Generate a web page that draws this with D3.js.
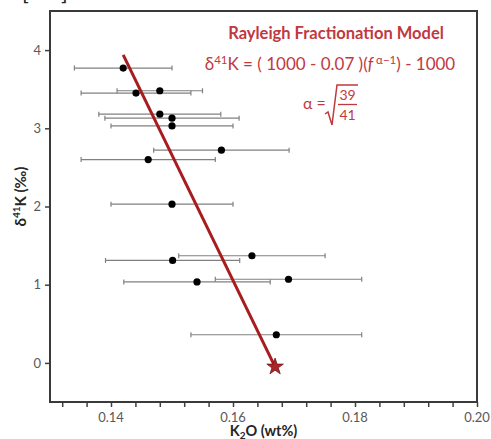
<!DOCTYPE html>
<html>
<head>
<meta charset="utf-8">
<script src="https://cdn.jsdelivr.net/npm/d3@7"></script>
<style>
  body { margin: 0; background: #fff; }
  svg { display: block; font-family: Lato, "Open Sans", sans-serif; }
</style>
</head>
<body>
<div class="chart"></div>
<script>
// K2O (wt%) vs d41K, with symmetric K2O error bars
const k2o    = [0.1420, 0.1441, 0.1480, 0.1480, 0.1500, 0.1500, 0.1581, 0.1461, 0.1500, 0.1501, 0.1541, 0.1631, 0.1691, 0.1671];
const k2oErr = [0.0080, 0.0090, 0.0070, 0.0100, 0.0110, 0.0100, 0.0111, 0.0110, 0.0100, 0.0110, 0.0120, 0.0120, 0.0120, 0.0140];
const d41k   = [3.77, 3.45, 3.48, 3.18, 3.13, 3.03, 2.72, 2.60, 2.03, 1.31, 1.035, 1.37, 1.07, 0.36];

// Rayleigh model line and starting composition (star)
const modelK2O = [0.1420, 0.1669];
const modelD41K = [3.94, -0.05];
const startK2O = 0.1669;
const startD41K = -0.05;

const xTicks = [0.14, 0.16, 0.18, 0.20];
const xMinorTicks = d3.range(0.132, 0.2001, 0.004);
const yTicks = [0, 1, 2, 3, 4];

const width = 491;
const height = 439;
const margin = { top: 11, left: 50, bottom: 37, right: 14 };
const red = '#c0393f';

const svg = d3.select('.chart').append('svg')
  .attr('width', width)
  .attr('height', height);

const x = d3.scaleLinear()
  .domain([0.13, 0.20])
  .range([margin.left, width - margin.right]);

const y = d3.scaleLinear()
  .domain([-0.5, 4.5])
  .range([height - margin.bottom, margin.top]);

// cut off panel label at the very top
svg.append('text')
  .attr('x', 22).attr('y', 0)
  .attr('font-size', 22).attr('fill', '#222')
  .text('[');
svg.append('text')
  .attr('x', 61).attr('y', 0)
  .attr('font-size', 22).attr('fill', '#222')
  .text(']');

// axes
const xAxis = d3.axisBottom(x).tickValues(xMinorTicks).tickSize(5).tickFormat('');
svg.append('g')
  .attr('transform', `translate(0,${height - margin.bottom})`)
  .call(xAxis)
  .call(g => g.select('.domain').remove())
  .call(g => g.selectAll('line').attr('stroke', '#404040').attr('stroke-width', 1.5));

svg.append('g')
  .selectAll('text').data(xTicks)
  .join('text')
  .attr('x', d => x(d))
  .attr('y', height - margin.bottom + 20)
  .attr('text-anchor', 'middle')
  .attr('font-size', 13)
  .attr('fill', '#595959')
  .text(d => d3.format('.2f')(d));

const yAxis = d3.axisLeft(y).tickValues(yTicks).tickSize(5).tickPadding(4).tickFormat(d3.format('d'));
svg.append('g')
  .attr('transform', `translate(${margin.left},0)`)
  .call(yAxis)
  .call(g => g.select('.domain').remove())
  .call(g => g.selectAll('line').attr('stroke', '#404040').attr('stroke-width', 1.5))
  .call(g => g.selectAll('text').attr('font-size', 13).attr('fill', '#595959').attr('font-family', 'Lato, sans-serif'));

// frame
svg.append('rect')
  .attr('x', margin.left).attr('y', margin.top)
  .attr('width', width - margin.left - margin.right)
  .attr('height', height - margin.top - margin.bottom)
  .attr('fill', 'none')
  .attr('stroke', '#3a3a3a')
  .attr('stroke-width', 2);

// axis titles
const yTitle = svg.append('text')
  .attr('transform', `translate(26,${(margin.top + height - margin.bottom) / 2 - 10}) rotate(-90)`)
  .attr('text-anchor', 'middle')
  .attr('font-size', 15).attr('font-weight', 'bold').attr('fill', '#262626');
yTitle.append('tspan').text('δ');
yTitle.append('tspan').attr('font-size', 10).attr('dy', -6).text('41');
yTitle.append('tspan').attr('dy', 6).text('K (‰)');

const xTitle = svg.append('text')
  .attr('x', (margin.left + width - margin.right) / 2)
  .attr('y', height - 3)
  .attr('text-anchor', 'middle')
  .attr('font-size', 14.5).attr('font-weight', 'bold').attr('fill', '#262626');
xTitle.append('tspan').text('K');
xTitle.append('tspan').attr('font-size', 10).attr('dy', 3).text('2');
xTitle.append('tspan').attr('dy', -3).text('O (wt%)');

// error bars
const idx = d3.range(k2o.length);
const bars = svg.append('g')
  .attr('stroke', '#808080')
  .attr('stroke-width', 1.2);
bars.selectAll('line.bar').data(idx).join('line')
  .attr('class', 'bar')
  .attr('x1', i => x(k2o[i] - k2oErr[i]))
  .attr('x2', i => x(k2o[i] + k2oErr[i]))
  .attr('y1', i => y(d41k[i]))
  .attr('y2', i => y(d41k[i]));
bars.selectAll('line.capl').data(idx).join('line')
  .attr('class', 'capl')
  .attr('x1', i => x(k2o[i] - k2oErr[i]))
  .attr('x2', i => x(k2o[i] - k2oErr[i]))
  .attr('y1', i => y(d41k[i]) - 2.5)
  .attr('y2', i => y(d41k[i]) + 2.5);
bars.selectAll('line.capr').data(idx).join('line')
  .attr('class', 'capr')
  .attr('x1', i => x(k2o[i] + k2oErr[i]))
  .attr('x2', i => x(k2o[i] + k2oErr[i]))
  .attr('y1', i => y(d41k[i]) - 2.5)
  .attr('y2', i => y(d41k[i]) + 2.5);

// points
svg.append('g').selectAll('circle').data(idx).join('circle')
  .attr('cx', i => x(k2o[i]))
  .attr('cy', i => y(d41k[i]))
  .attr('r', 3.6)
  .attr('fill', '#000');

// model line
const modelLine = d3.line()
  .x(i => x(modelK2O[i]))
  .y(i => y(modelD41K[i]));
svg.append('path')
  .datum(d3.range(modelK2O.length))
  .attr('d', modelLine)
  .attr('fill', 'none')
  .attr('stroke', '#a81b1f')
  .attr('stroke-width', 3);

// starting composition
svg.append('path')
  .attr('d', d3.symbol(d3.symbolStar).size(85)())
  .attr('transform', `translate(${x(startK2O)},${y(startD41K)})`)
  .attr('fill', '#a8272b')
  .attr('stroke', '#7a1416')
  .attr('stroke-width', 0.8);

// annotations
svg.append('text')
  .attr('x', 336).attr('y', 39)
  .attr('text-anchor', 'middle')
  .attr('font-size', 16.5).attr('font-weight', 'bold').attr('fill', red)
  .text('Rayleigh Fractionation Model');

const eq = svg.append('text')
  .attr('x', 330).attr('y', 70)
  .attr('text-anchor', 'middle')
  .attr('font-size', 17).attr('fill', red);
eq.append('tspan').text('δ');
eq.append('tspan').attr('font-size', 11.5).attr('dy', -6).text('41');
eq.append('tspan').attr('dy', 6).text('K = ( 1000 - 0.07 )(');
eq.append('tspan').attr('font-style', 'italic').text('f');
eq.append('tspan').attr('font-size', 11.5).attr('dy', -6).text(' α−1');
eq.append('tspan').attr('dy', 6).text(') - 1000');

svg.append('text')
  .attr('x', 303).attr('y', 109)
  .attr('font-size', 16).attr('fill', red)
  .text('α =');
svg.append('path')
  .attr('d', 'M325,114 L328,112 L332,125 L337,85 L358,85')
  .attr('fill', 'none')
  .attr('stroke', red)
  .attr('stroke-width', 1.5);
svg.append('line')
  .attr('x1', 338).attr('x2', 357)
  .attr('y1', 104.5).attr('y2', 104.5)
  .attr('stroke', red).attr('stroke-width', 1.3);
svg.append('text')
  .attr('x', 347.5).attr('y', 100)
  .attr('text-anchor', 'middle')
  .attr('font-size', 14).attr('fill', red)
  .text('39');
svg.append('text')
  .attr('x', 347.5).attr('y', 120)
  .attr('text-anchor', 'middle')
  .attr('font-size', 14).attr('fill', red)
  .text('41');
</script>
</body>
</html>
